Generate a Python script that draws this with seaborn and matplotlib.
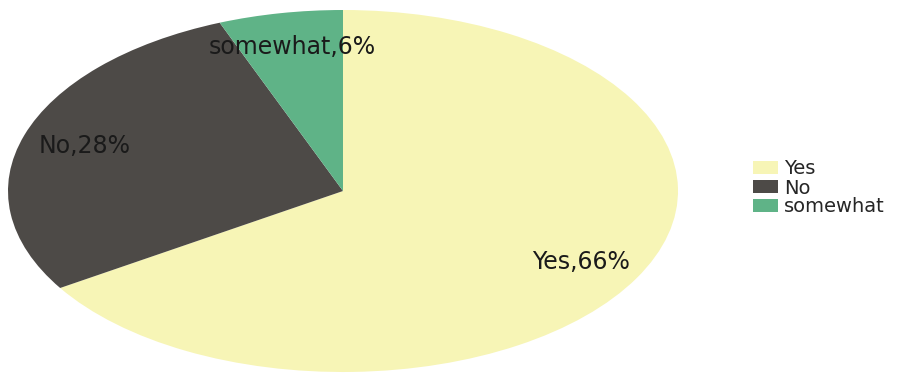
import matplotlib
matplotlib.use("Agg")
import matplotlib.pyplot as plt
import seaborn as sns

categories = ["Yes", "No", "somewhat"]
shares = [66, 28, 6]
colors = ["#F7F5B6", "#4D4A47", "#5FB387"]

sns.set_theme(style="white")
plt.rcParams["font.family"] = ["DejaVu Sans"]

fig = plt.figure(figsize=(9.24, 3.73), dpi=100)
ax = fig.add_axes([8 / 924, 1 - 372 / 373, 670 / 924, 362 / 373])

label_iter = iter(categories)


def slice_label(pct):
    return f"{next(label_iter)},{pct:.0f}%"


wedges, _, texts = ax.pie(
    shares,
    colors=colors,
    startangle=90,
    counterclock=False,
    autopct=slice_label,
    pctdistance=0.81,
    wedgeprops=dict(linewidth=0),
    textprops=dict(fontsize=17, color="#1a1a1a"),
)
ax.set_aspect("auto")
ax.set_xlim(-1, 1)
ax.set_ylim(-1, 1)
ax.axis("off")

fig.legend(
    wedges,
    categories,
    loc="center left",
    bbox_to_anchor=(753 / 924, 1 - 188 / 373),
    frameon=False,
    fontsize=14,
    handlelength=1.3,
    handleheight=0.65,
    handletextpad=0.3,
    labelspacing=0.0,
    borderpad=0,
    borderaxespad=0,
)

fig.savefig("out.png", dpi=100, facecolor="white")
